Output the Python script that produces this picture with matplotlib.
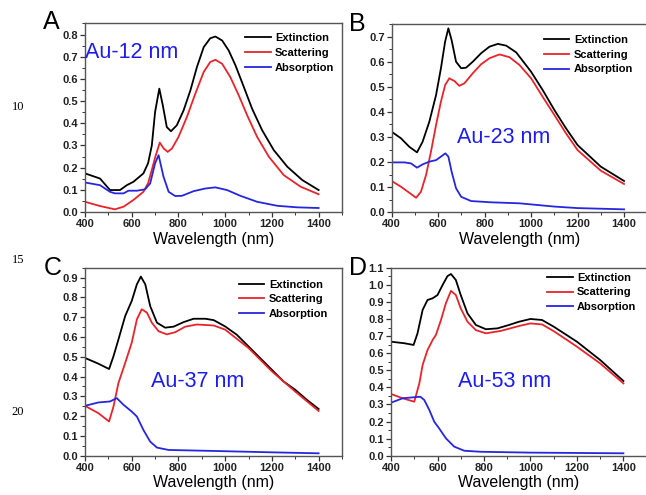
import matplotlib
matplotlib.use("Agg")
import matplotlib.pyplot as plt
from matplotlib.ticker import MultipleLocator, FormatStrFormatter

plt.rcParams['font.family'] = ['Liberation Sans', 'DejaVu Sans']

# ---- data (wavelength in nm) ----
# Panel A, Au-12 nm
a_ext_x = [400, 464, 507, 550, 579, 607, 650, 670, 686, 700, 718, 733, 750, 768, 793, 822, 851, 879, 908, 936, 958, 987, 1015, 1044, 1080, 1115, 1158, 1208, 1266, 1330, 1400]
a_ext_y = [0.174, 0.151, 0.099, 0.099, 0.121, 0.136, 0.174, 0.22, 0.30, 0.451, 0.556, 0.481, 0.383, 0.364, 0.391, 0.458, 0.548, 0.653, 0.743, 0.783, 0.791, 0.773, 0.728, 0.661, 0.563, 0.466, 0.369, 0.279, 0.204, 0.144, 0.099]
a_sca_x = [400, 464, 528, 565, 607, 650, 670, 686, 700, 720, 737, 754, 772, 800, 836, 872, 908, 936, 958, 987, 1022, 1058, 1094, 1137, 1187, 1251, 1323, 1400]
a_sca_y = [0.046, 0.027, 0.012, 0.024, 0.054, 0.091, 0.13, 0.19, 0.245, 0.313, 0.286, 0.271, 0.286, 0.338, 0.428, 0.533, 0.631, 0.676, 0.686, 0.668, 0.608, 0.526, 0.436, 0.338, 0.249, 0.166, 0.114, 0.080]
a_abs_x = [400, 464, 507, 528, 565, 586, 622, 657, 679, 700, 715, 736, 758, 786, 815, 865, 915, 958, 1008, 1065, 1137, 1223, 1309, 1400]
a_abs_y = [0.133, 0.121, 0.091, 0.084, 0.084, 0.096, 0.096, 0.102, 0.129, 0.22, 0.256, 0.159, 0.091, 0.072, 0.073, 0.094, 0.106, 0.111, 0.099, 0.073, 0.046, 0.028, 0.021, 0.018]

# Panel B, Au-23 nm
b_ext_x = [400, 440, 476, 509, 533, 562, 591, 612, 630, 644, 658, 677, 699, 720, 749, 785, 821, 857, 893, 936, 1000, 1050, 1100, 1150, 1200, 1300, 1400]
b_ext_y = [0.321, 0.295, 0.261, 0.239, 0.281, 0.361, 0.467, 0.574, 0.68, 0.733, 0.686, 0.60, 0.574, 0.576, 0.60, 0.634, 0.66, 0.671, 0.664, 0.637, 0.56, 0.487, 0.408, 0.335, 0.268, 0.182, 0.125]
b_sca_x = [400, 440, 476, 505, 526, 548, 569, 591, 612, 630, 648, 670, 691, 713, 749, 785, 821, 864, 907, 950, 1000, 1050, 1100, 1150, 1200, 1300, 1400]
b_sca_y = [0.125, 0.102, 0.078, 0.058, 0.082, 0.149, 0.241, 0.348, 0.441, 0.507, 0.534, 0.523, 0.504, 0.514, 0.554, 0.59, 0.614, 0.629, 0.618, 0.587, 0.534, 0.46, 0.388, 0.315, 0.248, 0.166, 0.113]
b_abs_x = [400, 455, 483, 509, 533, 562, 591, 612, 631, 644, 658, 677, 699, 742, 828, 950, 1100, 1200, 1400]
b_abs_y = [0.199, 0.199, 0.195, 0.178, 0.191, 0.202, 0.208, 0.222, 0.235, 0.222, 0.162, 0.096, 0.062, 0.045, 0.040, 0.036, 0.023, 0.017, 0.012]

# Panel C, Au-37 nm
c_ext_x = [400, 457, 503, 522, 543, 572, 600, 622, 639, 658, 679, 708, 743, 779, 822, 865, 915, 951, 1000, 1050, 1100, 1150, 1200, 1250, 1300, 1350, 1400]
c_ext_y = [0.494, 0.465, 0.438, 0.503, 0.587, 0.706, 0.782, 0.866, 0.905, 0.866, 0.756, 0.672, 0.647, 0.652, 0.675, 0.692, 0.692, 0.685, 0.653, 0.611, 0.552, 0.493, 0.434, 0.375, 0.333, 0.282, 0.236]
c_sca_x = [400, 457, 503, 522, 543, 572, 600, 622, 643, 665, 686, 715, 750, 786, 829, 879, 951, 1000, 1100, 1200, 1300, 1400]
c_sca_y = [0.252, 0.215, 0.173, 0.249, 0.367, 0.469, 0.571, 0.689, 0.74, 0.723, 0.672, 0.629, 0.613, 0.624, 0.652, 0.663, 0.658, 0.637, 0.544, 0.426, 0.324, 0.226]
c_abs_x = [400, 457, 507, 536, 565, 600, 622, 650, 679, 708, 758, 951, 1200, 1400]
c_abs_y = [0.252, 0.269, 0.274, 0.291, 0.257, 0.223, 0.198, 0.130, 0.071, 0.041, 0.029, 0.024, 0.017, 0.012]

# Panel D, Au-53 nm
d_ext_x = [400, 457, 497, 514, 536, 557, 579, 600, 622, 643, 658, 679, 700, 729, 765, 808, 858, 908, 951, 1000, 1050, 1100, 1200, 1300, 1400]
d_ext_y = [0.667, 0.658, 0.648, 0.716, 0.853, 0.911, 0.921, 0.94, 0.999, 1.051, 1.063, 1.028, 0.94, 0.833, 0.765, 0.74, 0.745, 0.765, 0.784, 0.80, 0.794, 0.755, 0.667, 0.56, 0.437]
d_sca_x = [400, 450, 500, 522, 536, 557, 579, 593, 615, 636, 658, 679, 700, 729, 765, 808, 872, 951, 1000, 1050, 1100, 1200, 1300, 1400]
d_sca_y = [0.361, 0.336, 0.316, 0.424, 0.531, 0.618, 0.677, 0.706, 0.794, 0.892, 0.965, 0.94, 0.862, 0.784, 0.735, 0.716, 0.73, 0.759, 0.774, 0.768, 0.729, 0.638, 0.54, 0.423]
d_abs_x = [400, 450, 500, 526, 543, 565, 586, 607, 636, 672, 715, 786, 1000, 1400]
d_abs_y = [0.31, 0.336, 0.342, 0.345, 0.326, 0.267, 0.199, 0.16, 0.102, 0.053, 0.029, 0.023, 0.018, 0.014]

labels = ['Extinction', 'Scattering', 'Absorption']
colors = ['black', '#e8242a', '#2626e0']
names = ['Au-12 nm', 'Au-23 nm', 'Au-37 nm', 'Au-53 nm']
letters = ['A', 'B', 'C', 'D']

panels = [
    (a_ext_x, a_ext_y, a_sca_x, a_sca_y, a_abs_x, a_abs_y),
    (b_ext_x, b_ext_y, b_sca_x, b_sca_y, b_abs_x, b_abs_y),
    (c_ext_x, c_ext_y, c_sca_x, c_sca_y, c_abs_x, c_abs_y),
    (d_ext_x, d_ext_y, d_sca_x, d_sca_y, d_abs_x, d_abs_y),
]

# layout, in figure fractions
rects = [
    [0.1316, 0.5717, 0.3978, 0.381],
    [0.6063, 0.5710, 0.3957, 0.3804],
    [0.1316, 0.0794, 0.3978, 0.3798],
    [0.6053, 0.0794, 0.3957, 0.3798],
]
ylims = [0.85, 0.75, 0.95, 1.1]
name_pos = [(400, 0.72), (680, 0.30), (683, 0.376), (689, 0.433)]
leg_pos = [(0.623, 0.948), (0.595, 0.941), (0.599, 0.937), (0.611, 0.973)]
letter_pos = [(0.080, 0.955), (0.553, 0.951), (0.082, 0.458), (0.554, 0.458)]

fig = plt.figure(figsize=(6.46, 4.95), dpi=100)

for i, p in enumerate(panels):
    ax = fig.add_axes(rects[i])
    for k in range(3):
        ax.plot(p[2 * k], p[2 * k + 1], color=colors[k], lw=1.3, label=labels[k])
    ax.set_xlim(400, 1500)
    ax.set_ylim(0, ylims[i])
    ax.set_xticks([400, 600, 800, 1000, 1200, 1400])
    ax.xaxis.set_minor_locator(MultipleLocator(100))
    ax.yaxis.set_major_locator(MultipleLocator(0.1))
    ax.yaxis.set_minor_locator(MultipleLocator(0.05))
    ax.yaxis.set_major_formatter(FormatStrFormatter('%.1f'))
    ax.tick_params(which='major', direction='out', length=3.5, width=0.9,
                   labelsize=8, pad=1.5, colors='#333333', labelcolor='#222222')
    ax.tick_params(which='minor', direction='out', length=2, width=0.7, colors='#333333')
    for t in ax.get_xticklabels() + ax.get_yticklabels():
        t.set_fontweight('bold')
    for s in ax.spines.values():
        s.set_color('#555555')
        s.set_linewidth(1.0)
    ax.set_xlabel('Wavelength (nm)', fontsize=11.5, labelpad=2)
    ax.text(name_pos[i][0], name_pos[i][1], names[i], color='#1c1cf0',
            fontsize=15.5, ha='left', va='center')
    ax.legend(loc='upper left', bbox_to_anchor=leg_pos[i], frameon=False,
              borderpad=0, borderaxespad=0, handlelength=2.3,
              handletextpad=0.4, labelspacing=0.42,
              prop={'size': 8, 'weight': 'bold'})
    fig.text(letter_pos[i][0], letter_pos[i][1], letters[i], fontsize=18,
             ha='center', va='center')

# manuscript line numbers in the margin
for num, yy in [('10', 107), ('15', 260), ('20', 412)]:
    fig.text(18 / 646, 1 - yy / 495, num, fontsize=9, family='Liberation Serif',
             ha='center', va='center')

fig.savefig('out.png', dpi=100)
